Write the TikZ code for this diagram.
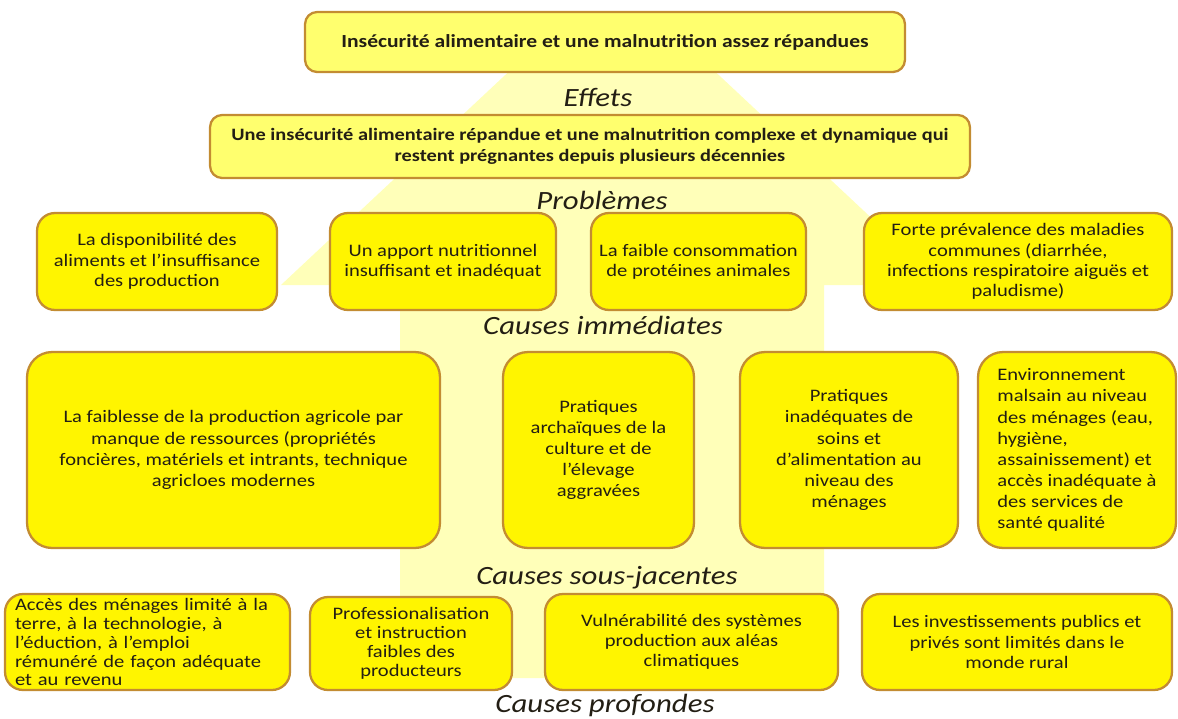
\documentclass[tikz,border=0pt]{standalone}
\usepackage{fontspec}
\setmainfont{Carlito}[FakeStretch=1.17]
\definecolor{lemon}{RGB}{255,245,0}
\definecolor{cream}{RGB}{255,255,110}
\definecolor{pale}{RGB}{255,255,185}
\definecolor{rim}{RGB}{195,140,50}
\definecolor{ink}{RGB}{35,30,20}
\tikzset{
  box/.style={draw=rim,fill=#1,line width=1.3pt,rounded corners=0.36cm,align=center,
    text=ink,font=\fontsize{10}{11.5}\selectfont,inner sep=2pt},
  box/.default=lemon,
  head box/.style={box=cream,rounded corners=0.24cm,font=\fontsize{10.5}{12.5}\selectfont\bfseries},
  big box/.style={box,rounded corners=0.5cm,minimum height=3.92cm,font=\fontsize{10}{12}\selectfont},
  level/.style={font=\fontsize{15}{18}\selectfont\itshape,text=ink},
}

\begin{document}
\begin{tikzpicture}[x=0.02cm,y=-0.02cm]
  \useasboundingbox (0,0) rectangle (1178,718);
  % big arrow behind the boxes
  \begin{scope}
    \clip (0,14) rectangle (1178,718);
    \fill[pale] (400,678) -- (400,285) -- (281,285) -- (612,-25) -- (943,285)
      -- (824,285) -- (824,678) -- cycle;
  \end{scope}
  % effets et problemes
  \node[head box,minimum width=12cm,minimum height=1.2cm] (eff) at (605,42)
    {Insécurité alimentaire et une malnutrition assez répandues};
  \node[level] (leff) at (598,97) {Effets};
  \node[head box,minimum width=15.2cm,minimum height=1.26cm,font=\fontsize{9.9}{12}\selectfont\bfseries] (pb) at (590,146.5)
    {Une insécurité alimentaire répandue et une malnutrition complexe et dynamique qui\\restent prégnantes depuis plusieurs décennies};
  \node[level] (lpb) at (602,200) {Problèmes};
  % causes immediates
  \node[box,minimum width=4.8cm,minimum height=1.94cm] (ci1) at (157,261.5)
    {La disponibilité des\\aliments et l’insuffisance\\des production};
  \node[box,minimum width=4.52cm,minimum height=1.94cm] (ci2) at (443,261.5)
    {Un apport nutritionnel\\insuffisant et inadéquat};
  \node[box,minimum width=4.3cm,minimum height=1.94cm] (ci3) at (698.5,261.5)
    {La faible consommation\\de protéines animales};
  \node[box,minimum width=6.16cm,minimum height=1.94cm] (ci4) at (1018,261.5)
    {Forte prévalence des maladies\\communes (diarrhée,\\infections respiratoire aiguës et\\paludisme)};
  \node[level] (lci) at (603,325) {Causes immédiates};
  % causes sous-jacentes
  \node[big box,minimum width=8.26cm] (cs1) at (233.5,450)
    {La faiblesse de la production agricole par\\manque de ressources (propriétés\\foncières, matériels et intrants, technique\\agricloes modernes};
  \node[big box,minimum width=3.82cm] (cs2) at (598.5,450)
    {Pratiques\\archaïques de la\\culture et de\\l’élevage\\aggravées};
  \node[big box,minimum width=4.36cm] (cs3) at (849,450)
    {Pratiques\\inadéquates de\\soins et\\d’alimentation au\\niveau des\\ménages};
  \node[big box,minimum width=3.96cm,align=left] (cs4) at (1077,450)
    {Environnement\\malsain au niveau\\des ménages (eau,\\hygiène,\\assainissement) et\\accès inadéquate à\\des services de\\santé qualité};
  \node[level] (lcs) at (607,578) {Causes sous-jacentes};
  % causes profondes
  \node[box,minimum width=5.7cm,minimum height=1.92cm,text width=5.3cm,align=left,
    inner ysep=0.5pt,font=\fontsize{10}{10.8}\selectfont] (cp1) at (147.5,642)
    {Accès des ménages limité à la\\terre, à la technologie, à\\l’éduction, à l’emploi\\rémunéré de façon adéquate\\et au revenu};
  \node[box,minimum width=4.04cm,minimum height=1.86cm,font=\fontsize{10}{10.8}\selectfont] (cp2) at (411,643.5)
    {Professionalisation\\et instruction\\faibles des\\producteurs};
  \node[box,minimum width=5.86cm,minimum height=1.92cm] (cp3) at (691.5,642)
    {Vulnérabilité des systèmes\\production aux aléas\\climatiques};
  \node[box,minimum width=6.2cm,minimum height=1.92cm] (cp4) at (1017,642)
    {Les investissements publics et\\privés sont limités dans le\\monde rural};
  \node[level] (lcp) at (605,705) {Causes profondes};
\end{tikzpicture}
\end{document}
